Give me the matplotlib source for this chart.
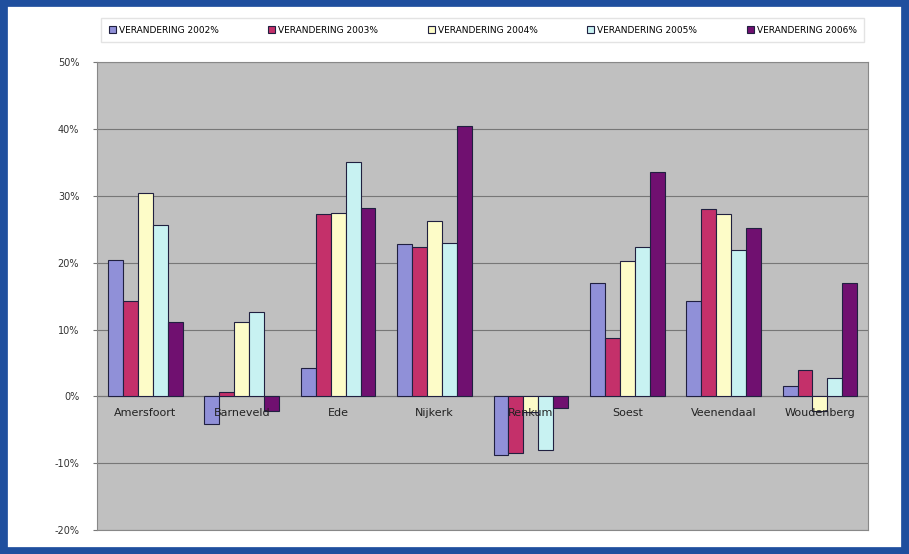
import numpy as np
import matplotlib.pyplot as plt
from matplotlib.patches import Rectangle


gemeenten = ['Amersfoort', 'Barneveld', 'Ede', 'Nijkerk', 'Renkum',
             'Soest', 'Veenendaal', 'Woudenberg']
reeksen = ['VERANDERING 2002%', 'VERANDERING 2003%', 'VERANDERING 2004%',
           'VERANDERING 2005%', 'VERANDERING 2006%']

s1 = [20.4, -4.1, 4.2, 22.8, -8.7, 16.9, 14.2, 1.6]
s2 = [14.2, 0.7, 27.3, 22.3, -8.4, 8.8, 28.0, 3.9]
s3 = [30.4, 11.1, 27.4, 26.2, -2.3, 20.2, 27.3, -2.2]
s4 = [25.6, 12.6, 35.1, 22.9, -8.0, 22.3, 21.9, 2.7]
s5 = [11.1, -2.2, 28.2, 40.5, -1.7, 33.6, 25.2, 16.9]
waarden = [s1, s2, s3, s4, s5]

kleuren = ['#9090d8', '#c4306a', '#fdfcc8', '#c8f2f2', '#701070']

fig = plt.figure(figsize=(9.09, 5.54), dpi=100)
fig.patch.set_facecolor('white')

# blauwe rand rond het geheel
fig.patches.append(Rectangle((0.003, 0.004), 0.994, 0.992, transform=fig.transFigure,
                             fill=False, edgecolor='#1f4f9e', linewidth=7))

ax = fig.add_axes([0.107, 0.043, 0.848, 0.845])
ax.set_facecolor('#c0c0c0')

x = np.arange(len(gemeenten))
w = 0.155
for i, (vals, kl) in enumerate(zip(waarden, kleuren)):
    ax.bar(x + (i - 2) * w, vals, w, color=kl, edgecolor='#202040',
           linewidth=0.8, label=reeksen[i], zorder=3)

ax.set_xlim(-0.5, len(gemeenten) - 0.5)
ax.set_ylim(-20, 50)
ax.set_yticks(np.arange(-20, 51, 10))
ax.set_yticklabels([f'{v}%' for v in range(-20, 51, 10)], fontsize=7, color='#333333')
ax.yaxis.grid(True, color='#777777', linewidth=0.8, zorder=0)
ax.axhline(0, color='#777777', linewidth=0.8, zorder=1)
ax.set_xticks([])
ax.tick_params(axis='y', length=3, color='#777777', pad=10)
for s in ax.spines.values():
    s.set_color('#888888')
    s.set_linewidth(0.8)

for xi, naam in zip(x, gemeenten):
    ax.annotate(naam, (xi, 0), xytext=(0, -8), textcoords='offset points',
                ha='center', va='top', fontsize=8, color='#222222', zorder=5)

fig.legend(loc='upper center', bbox_to_anchor=(0.531, 0.975), ncol=5,
           fontsize=6.5, frameon=True, fancybox=False, edgecolor='#dddddd',
           handlelength=0.8, handleheight=0.8, columnspacing=5.5,
           borderpad=0.8, handletextpad=0.3)

fig.savefig('out.png', dpi=100)
